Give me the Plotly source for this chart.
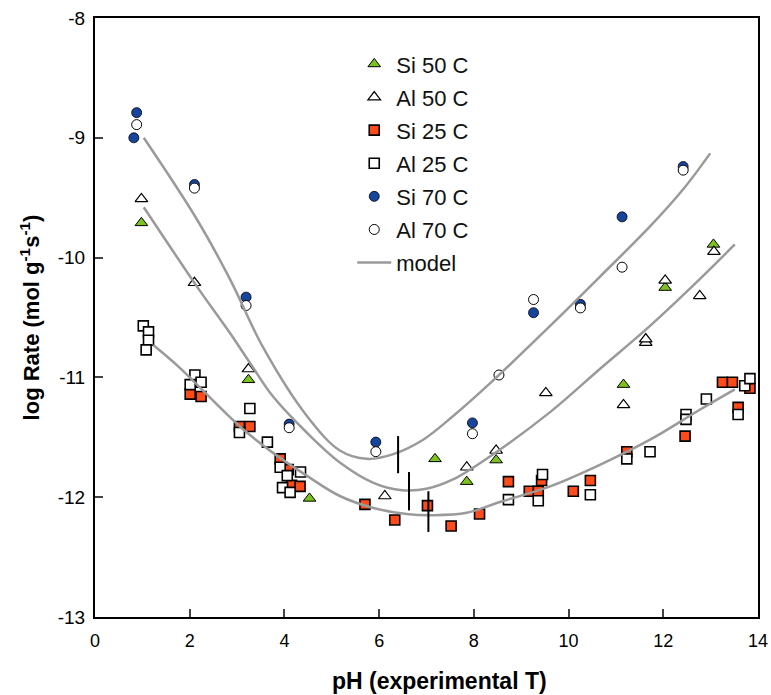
import plotly.graph_objects as go

# ---------------- data ----------------
si50_x = [0.98, 3.24, 4.53, 7.18, 7.85, 8.47, 11.16, 12.04, 13.06]
si50_y = [-9.71, -11.02, -12.01, -11.68, -11.87, -11.69, -11.06, -10.25, -9.89]

al50_x = [0.98, 2.10, 3.24, 6.12, 7.85, 8.47, 9.52, 11.16, 11.63, 11.63, 12.04, 12.77, 13.07]
al50_y = [-9.51, -10.21, -10.93, -11.99, -11.75, -11.61, -11.13, -11.23, -10.71, -10.68, -10.19, -10.32, -9.95]

si25_x = [2.01, 2.24, 3.05, 3.27, 3.91, 4.08, 4.15, 4.33, 5.70, 6.33, 7.02, 7.52, 8.12, 8.73,
          9.17, 9.36, 9.43, 10.10, 10.46, 11.23, 12.46, 13.25, 13.46, 13.58, 13.83]
si25_y = [-11.14, -11.16, -11.41, -11.41, -11.68, -11.77, -11.90, -11.91, -12.06, -12.19, -12.07, -12.24,
          -12.14, -11.87, -11.95, -11.95, -11.86, -11.95, -11.86, -11.62, -11.49, -11.04, -11.04, -11.25, -11.09]

al25_x = [1.02, 1.13, 1.13, 1.08, 2.11, 2.24, 2.01, 3.27, 3.05, 3.64, 3.91, 4.06, 4.34, 3.96, 4.12,
          8.73, 9.36, 9.45, 10.46, 11.23, 11.72, 12.48, 12.48, 12.91, 13.58, 13.72, 13.83]
al25_y = [-10.57, -10.62, -10.69, -10.77, -10.98, -11.04, -11.06, -11.26, -11.46, -11.54, -11.75, -11.82,
          -11.79, -11.92, -11.96, -12.02, -12.03, -11.81, -11.98, -11.68, -11.62, -11.31, -11.35, -11.18,
          -11.31, -11.07, -11.01]

si70_x = [0.88, 0.82, 2.10, 3.19, 4.10, 5.93, 7.97, 9.26, 10.25, 11.13, 12.42]
si70_y = [-8.79, -9.00, -9.39, -10.33, -11.39, -11.54, -11.38, -10.46, -10.39, -9.66, -9.24]

al70_x = [0.88, 2.10, 3.19, 4.10, 5.93, 7.97, 8.53, 9.26, 10.25, 11.13, 12.42]
al70_y = [-8.89, -9.42, -10.40, -11.42, -11.62, -11.47, -10.98, -10.35, -10.42, -10.08, -9.27]

# model curves
m70_x = [1.03, 2.15, 2.85, 3.55, 4.47, 5.17, 5.74, 6.30, 6.93, 7.57, 8.34, 9.61, 10.66, 11.72, 12.42, 12.99]
m70_y = [-9.00, -9.68, -10.18, -10.75, -11.32, -11.61, -11.68, -11.64, -11.52, -11.32, -11.05, -10.57, -10.16, -9.74, -9.43, -9.13]

m50_x = [1.03, 2.15, 2.85, 3.34, 3.76, 4.47, 5.17, 5.88, 6.44, 7.00, 7.57, 8.34, 9.61, 10.66, 11.72, 12.77, 13.51]
m50_y = [-9.58, -10.24, -10.63, -10.92, -11.16, -11.46, -11.71, -11.88, -11.94, -11.93, -11.85, -11.66, -11.29, -10.93, -10.57, -10.18, -9.89]

m25_x = [1.23, 1.79, 3.06, 3.76, 4.47, 5.17, 5.88, 6.58, 7.14, 7.85, 8.55, 9.61, 10.66, 11.72, 12.77, 13.51]
m25_y = [-10.73, -10.92, -11.41, -11.63, -11.82, -11.99, -12.09, -12.14, -12.15, -12.13, -12.04, -11.91, -11.73, -11.52, -11.27, -11.10]

# vertical marker lines
vl_x = [6.40, 6.40, None, 6.63, 6.63, None, 7.04, 7.04]
vl_y = [-11.49, -11.80, None, -11.79, -12.11, None, -11.95, -12.29]

x_ticks = [0, 2, 4, 6, 8, 10, 12, 14]
x_labels = ["0", "2", "4", "6", "8", "10", "12", "14"]
y_ticks = [-13, -12, -11, -10, -9, -8]
y_labels = ["-13", "-12", "-11", "-10", "-9", "-8"]

GREEN = "#7cc41c"
RED = "#ff4a1a"
BLUE = "#17449c"
GRAY = "#9a9a9a"

fig = go.Figure()

def add_pts(x, y, name, symbol, fill, size, lw):
    fig.add_trace(go.Scatter(
        x=x, y=y, mode="markers", name=name, legendgroup=name,
        marker=dict(symbol=symbol, color=fill, size=size,
                    line=dict(color="black", width=lw))))

add_pts(si50_x, si50_y, "Si 50 C", "triangle-up", GREEN, 11, 1)
add_pts(al50_x, al50_y, "Al 50 C", "triangle-up", "white", 11, 1.2)
add_pts(si25_x, si25_y, "Si 25 C", "square", RED, 10, 1.6)
add_pts(al25_x, al25_y, "Al 25 C", "square", "white", 10, 1.6)
add_pts(si70_x, si70_y, "Si 70 C", "circle", BLUE, 10, 0.8)
add_pts(al70_x, al70_y, "Al 70 C", "circle", "white", 10, 1)

for i, (mx, my) in enumerate([(m70_x, m70_y), (m50_x, m50_y), (m25_x, m25_y)]):
    fig.add_trace(go.Scatter(
        x=mx, y=my, mode="lines", name="model", legendgroup="model",
        showlegend=(i == 0),
        line=dict(color=GRAY, width=2.5, shape="spline", smoothing=1.0)))

fig.add_trace(go.Scatter(x=vl_x, y=vl_y, mode="lines", showlegend=False,
                         line=dict(color="black", width=2)))

fig.update_layout(
    width=771, height=695,
    margin=dict(l=95, r=13, t=18, b=78),
    plot_bgcolor="white", paper_bgcolor="white",
    font=dict(family="Liberation Sans, Arial, sans-serif", color="black"),
    legend=dict(x=0.388, y=0.958, xanchor="left", yanchor="top",
                bgcolor="rgba(0,0,0,0)", font=dict(size=22, color="#111"),
                tracegroupgap=1.5, itemwidth=34),
    showlegend=True,
)
fig.update_xaxes(range=[0, 14], tickvals=x_ticks, ticktext=x_labels, ticks="inside", ticklen=8, tickwidth=1.5,
                 showline=True, linecolor="black", linewidth=2, mirror=True,
                 showgrid=False, zeroline=False, automargin=False, ticklabelstandoff=6,
                 tickfont=dict(size=18),
                 title=dict(text="&nbsp;&nbsp;&nbsp;&nbsp;<b>pH (experimental T)</b>", font=dict(size=23), standoff=23))
fig.update_yaxes(range=[-13, -8], tickvals=y_ticks, ticktext=y_labels, ticks="inside", ticklen=8, tickwidth=1.5,
                 showline=True, linecolor="black", linewidth=2, mirror=True,
                 showgrid=False, zeroline=False, automargin=False, ticklabelstandoff=4,
                 tickfont=dict(size=19),
                 title=dict(text="<b>log Rate (mol g<sup>-1</sup>s<sup>-1</sup>)</b>", font=dict(size=22), standoff=12))

fig.write_html("out.html", config={"displayModeBar": False},
               post_script="document.body.style.margin='0px';")
